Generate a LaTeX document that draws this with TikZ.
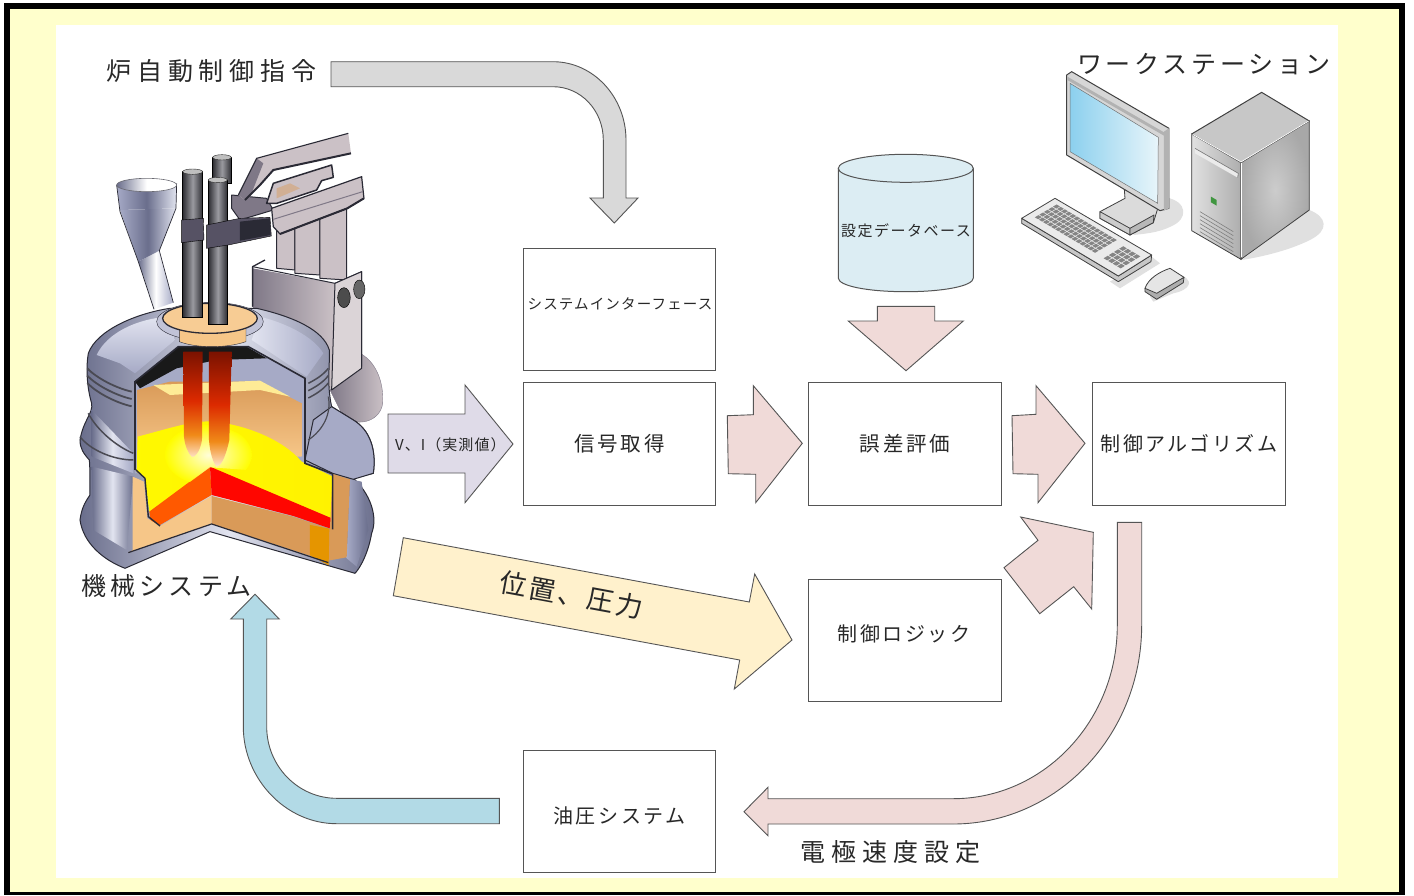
\documentclass[tikz,border=0pt]{standalone}
\usepackage{fontspec}
\setmainfont{Noto Sans CJK JP}
\newcommand\jptext[3]{{\fontsize{#1}{#1}\selectfont\addfontfeature{LetterSpace=#2}#3}}
\definecolor{pagey}{HTML}{FFFFCC}
\definecolor{edgeg}{HTML}{555555}
\definecolor{pinkf}{HTML}{F0DAD8}
\definecolor{grayf}{HTML}{D9D9D9}
\definecolor{lilacf}{HTML}{DFDBE8}
\definecolor{yellf}{HTML}{FFF1CC}
\definecolor{bluef}{HTML}{B2DAE6}
\definecolor{dbf}{HTML}{DCEDF3}
\definecolor{txt}{HTML}{282828}
\definecolor{frameS}{HTML}{2A2A35}
\definecolor{armf}{HTML}{CBC1C6}
\definecolor{armd}{HTML}{7F7887}
\definecolor{tanl}{HTML}{F6C688}
\definecolor{tand}{HTML}{D99A58}
\definecolor{steelD}{HTML}{6A6E8C}
\definecolor{steelM}{HTML}{A6AAC6}
\definecolor{steelL}{HTML}{E2E4F0}
\definecolor{elecD}{HTML}{2E2E33}
\definecolor{elecL}{HTML}{9A9AA0}
\definecolor{clampc}{HTML}{565264}
\definecolor{flameT}{HTML}{7A1200}
\definecolor{flameM}{HTML}{DC2A00}
\definecolor{flameO}{HTML}{F08A18}
\definecolor{flameB}{HTML}{FFE6D0}
\pgfdeclareverticalshading{flameshade}{100bp}{color(0bp)=(flameB); color(25bp)=(flameB); color(36bp)=(flameO); color(52bp)=(flameM); color(75bp)=(flameT); color(100bp)=(flameT)}
\tikzset{
  boxn/.style={draw=edgeg,line width=1.3pt,fill=white,minimum width=192.5pt,minimum height=122.5pt,inner sep=0pt,text=txt},
  blockarrow/.style={draw=edgeg,line width=0.9pt,line join=miter},
  lab/.style={inner sep=0pt,text=txt,anchor=west},
  ink/.style={draw=frameS,line width=1pt,line join=round},
  pcline/.style={draw=black!75,line width=0.8pt,line join=round}
}
\begin{document}
\begin{tikzpicture}[x=1pt,y=-1pt]
\useasboundingbox (0,0) rectangle (1414,895);
\fill[white] (0,0) rectangle (1414,895);
\fill[black] (4,3) rectangle (1405,895);
\fill[pagey] (10,9) rectangle (1399,892);
\fill[white] (56,25) rectangle (1338,878);

% ---------- furnace illustration
\begin{scope}[shift={(60,120)},x=.3333pt,y=-.3333pt]
% mast base
\shade[left color=armd,right color=armf,draw=armd] (890,695) .. controls (950,720) and (972,790) .. (968,850) .. controls (962,900) and (900,925) .. (850,890) -- (810,810) -- cycle;
% posts
\foreach \a/\b/\c/\d in {650/705/300/450,705/780/290/465,780/860/270/480}
  \filldraw[fill=armf,ink] (\a,\c) -- (\b,\c-15) -- (\b,\d) -- (\a,\d-5) -- cycle;
% mast block
\shade[left color=armd,right color=armf] (578,445) -- (825,490) -- (815,810) -- (590,590) -- (578,560) -- cycle;
\draw[ink,line width=1.3pt] (578,560) -- (578,440) -- (615,420);
\draw[ink] (578,440) -- (825,490) -- (905,455) -- (905,740);
\filldraw[fill=armf!70!white,ink] (825,490) -- (905,455) -- (905,745) -- (815,810) -- cycle;
\filldraw[fill=black!70,draw=black] (852,533) ellipse (19 and 30);
\filldraw[fill=black!60,draw=black] (898,508) ellipse (17 and 28);
% link piece behind the arms
\filldraw[fill=armd,ink] (515,225) -- (620,235) -- (640,270) -- (540,300) -- (515,265) -- cycle;
% second bar under upper arm
\filldraw[fill=armf,ink,line width=1.5pt] (640,190) -- (815,135) -- (820,172) -- (785,182) -- (770,210) -- (650,250) -- (620,250) -- cycle;
\fill[tand!45!armf] (650,205) -- (690,190) -- (720,205) -- (650,235) -- cycle;
% upper arm
\filldraw[fill=armf,draw=none] (535,225) -- (590,115) -- (865,40) -- (873,100) -- (640,150) -- (600,195) -- (555,240) -- cycle;
\fill[armd] (535,225) -- (590,115) -- (610,130) -- (570,232) -- (555,240) -- cycle;
\draw[frameS,line width=1.1pt] (535,225) -- (590,115) -- (865,40);
\draw[frameS,line width=2pt] (555,240) -- (600,195) -- (640,150) -- (873,100);
% lower arm
\filldraw[fill=armf,ink,line width=1.2pt] (635,265) -- (905,170) -- (912,235) -- (862,265) -- (660,342) -- (640,320) -- cycle;
\draw[frameS,line width=2pt] (660,342) -- (862,265) -- (912,235);
\draw[armd,line width=1pt] (640,298) -- (908,215);
% hopper
\shade[left color=steelD,right color=steelM,middle color=white] (235,425) -- (298,392) -- (340,548) -- (282,568) -- cycle;
\shade[left color=steelM,right color=steelL,middle color=steelD] (180,270) -- (348,265) -- (298,392) -- (235,425) -- cycle;
\shade[left color=steelM,right color=steelL,middle color=steelD] (170,195) -- (350,190) -- (348,265) -- (180,270) -- cycle;
\draw[ink,line width=.7pt] (170,195) -- (180,275) -- (235,425) -- (282,568);
\draw[ink,line width=.7pt] (350,190) -- (348,265) -- (298,392) -- (340,548);
\shade[left color=steelD,right color=white,middle color=white,draw=frameS!70,line width=.6pt] (260,195) ellipse (90 and 20);
% furnace body
\shade[left color=steelD,right color=steelD,middle color=steelL,draw=frameS,line width=1pt]
  (60,960) .. controls (70,900) and (100,880) .. (95,850) .. controls (80,800) and (78,740) .. (85,700)
  .. controls (110,630) and (230,580) .. (330,565) -- (590,565)
  .. controls (700,590) and (790,630) .. (808,690) .. controls (810,740) and (800,790) .. (815,860)
  -- (880,900) .. controls (930,930) and (950,990) .. (940,1060) -- (880,1075)
  .. controls (930,1120) and (955,1190) .. (935,1240) .. controls (925,1300) and (900,1345) .. (885,1360)
  -- (450,1235) -- (195,1345)
  .. controls (130,1320) and (70,1270) .. (60,1200) .. controls (65,1160) and (80,1140) .. (90,1125)
  .. controls (90,1080) and (90,1040) .. (88,1020) .. controls (70,1000) and (60,985) .. (60,960) -- cycle;
% highlights on the lower shell
\shade[left color=steelD,right color=steelM,middle color=steelL] (95,870) -- (220,1000) -- (220,1060) -- (95,1010) -- cycle;
\shade[left color=steelD,right color=steelD,middle color=steelL] (95,1040) -- (220,1070) -- (200,1290) -- (100,1230) -- cycle;
% skirt right
\filldraw[fill=steelM,ink] (735,1020) -- (760,900) -- (815,860) -- (880,900) .. controls (930,930) and (950,990) .. (940,1060) -- (880,1078) -- (818,1060) -- cycle;
\shade[left color=steelM,right color=steelD] (870,1078) -- (905,1085) -- (925,1230) -- (890,1340) -- (860,1315) -- cycle;
% roof plates
\shade[top color=steelL,bottom color=steelM] (110,705) .. controls (140,640) and (230,595) .. (330,590) -- (345,660) -- (225,760) -- (180,730) -- cycle;
\shade[left color=steelL,right color=steelM] (575,660) -- (600,590) .. controls (680,610) and (760,650) .. (790,700) -- (740,770) -- cycle;
% ridges
\foreach \d in {0,22,44}{
  \draw[frameS!85,line width=1.8pt] (82,{745+\d}) .. controls (110,{775+\d}) and (170,{805+\d}) .. (215,{815+\d});
  \draw[frameS!85,line width=1.5pt] (745,{790+\d}) .. controls (765,{780+\d}) and (790,{765+\d}) .. (805,{745+\d});
}
\draw[frameS!85,line width=1.5pt] (85,880) .. controls (110,930) and (170,980) .. (220,1000);
\draw[frameS!85,line width=1.5pt] (60,950) .. controls (90,990) and (160,1020) .. (220,1020);
\draw[frameS!85,line width=1.2pt] (745,960) .. controls (790,930) and (815,880) .. (805,830);
% cut-away
\fill[steelM] (225,785) -- (355,680) -- (565,680) -- (735,775) -- (735,1040) -- (225,1060) -- cycle;
\fill[black!90] (225,785) -- (355,680) -- (560,680) -- (620,715) -- (470,720) -- (350,745) -- (240,805) -- cycle;
\shade[top color=tand,bottom color=tanl] (232,810) -- (330,785) -- (600,785) -- (725,850) -- (725,1010) -- (232,1010) -- cycle;
\fill[yellow!70!orange!40] (280,795) -- (600,782) -- (690,830) -- (600,810) -- (330,825) -- cycle;
\shade[left color=yellow!95!orange,right color=yellow!90!orange] (233,950) .. controls (330,925) and (400,900) .. (460,905) .. controls (560,915) and (670,960) .. (725,1025) -- (815,1068) -- (815,1195) -- (450,1045) -- (268,1175) -- (255,1075) -- (230,1055) -- cycle;
\fill[orange!70!red] (268,1175) -- (450,1040) -- (455,1125) -- (300,1215) -- (272,1205) -- cycle;
\fill[red!95!orange] (450,1040) -- (815,1195) -- (818,1228) -- (700,1188) -- (455,1125) -- cycle;
\fill[tanl] (218,1070) -- (252,1085) -- (262,1195) -- (300,1218) -- (455,1128) -- (455,1212) -- (205,1298) -- (218,1290) -- cycle;
\fill[tand] (455,1128) -- (700,1190) -- (818,1230) -- (805,1325) -- (455,1212) -- cycle;
\fill[tand] (818,1062) -- (870,1078) -- (860,1312) -- (805,1322) -- cycle;
\fill[orange!70!yellow!90!black] (750,1215) -- (808,1226) -- (806,1336) -- (750,1306) -- cycle;
\draw[frameS,line width=1.6pt] (225,1050) -- (225,785) -- (355,680) -- (565,680) -- (735,775) -- (735,1030) -- (818,1062) -- (818,1228);
\draw[frameS,line width=1.4pt] (228,1050) -- (255,1075) -- (265,1190) -- (300,1218);
\draw[frameS,line width=1.2pt] (205,1298) -- (455,1212) -- (805,1328);
% glow
\begin{scope}
\clip (233,950) -- (455,905) -- (725,1025) -- (815,1068) -- (450,1042) -- (268,1175) -- cycle;
\shade[inner color=white,outer color=yellow,opacity=.85] (445,1005) ellipse (130 and 90);
\end{scope}
% flames
\shade[shading=flameshade] (370,695) -- (428,695) -- (426,960) .. controls (420,1000) and (400,1015) .. (395,1010) .. controls (385,1000) and (375,980) .. (372,950) -- cycle;
\shade[shading=flameshade] (447,695) -- (515,695) -- (508,960) .. controls (495,1020) and (480,1040) .. (470,1040) .. controls (460,1030) and (450,1000) .. (447,960) -- cycle;
% flange
\filldraw[fill=steelM!70!white,draw=frameS] (450,605) ellipse (160 and 58);
\filldraw[fill=tanl,draw=frameS] (358,620) -- (558,620) -- (558,665) .. controls (500,685) and (410,685) .. (358,665) -- cycle;
\filldraw[fill=tanl!90!white,draw=frameS,line width=1.3pt] (450,595) ellipse (142 and 45);
% electrodes
\foreach \a/\b/\t/\e in {458/514/112/190,368/428/155/592,445/502/180/612}{
  \shade[left color=elecD,right color=elecD,middle color=elecL,draw=black,line width=.8pt] (\a,\t) -- (\b,\t) -- (\b,\e) -- (\a,\e) -- cycle;
  \filldraw[fill=black!25,draw=black!85] ({(\a+\b)/2},\t) ellipse ({(\b-\a)/2} and 8);
}
% clamps
\filldraw[fill=clampc,draw=black] (365,300) -- (430,295) -- (432,360) -- (365,368) -- cycle;
\filldraw[fill=clampc,draw=black] (440,315) -- (540,295) -- (630,292) -- (634,348) -- (505,375) -- (440,385) -- cycle;
\fill[frameS] (540,305) -- (630,295) -- (632,345) -- (540,362) -- cycle;
\end{scope}

% ---------- workstation illustration
\begin{scope}[shift={(1010,40)},x=.3333pt,y=-.3333pt]
% shadows
\fill[black!12] (440,470) .. controls (520,470) and (540,520) .. (500,550) .. controls (460,575) and (420,580) .. (370,585) -- cycle;
\fill[black!12] (898,510) .. controls (950,530) and (960,570) .. (900,600) .. controls (840,630) and (760,650) .. (695,660) -- cycle;
\fill[black!12] (425,650) -- (450,670) -- (330,745) -- (300,725) -- cycle;
\fill[black!12] (500,700) .. controls (560,720) and (540,750) .. (490,760) -- (430,785) -- (420,770) -- cycle;
% monitor stand
\filldraw[fill=black!14,pcline] (342,435) -- (345,475) -- (270,515) -- (270,535) -- (360,585) -- (430,548) -- (445,500) -- cycle;
\filldraw[fill=black!20,pcline] (270,515) -- (360,565) -- (360,585) -- (270,535) -- cycle;
\filldraw[fill=black!28,pcline] (360,565) -- (432,525) -- (430,548) -- (360,585) -- cycle;
% monitor
\filldraw[fill=black!16,pcline,line width=1pt] (170,105) -- (185,95) -- (477,265) -- (477,505) -- (450,512) -- (170,345) -- cycle;
\filldraw[fill=black!30,draw=none] (462,275) -- (477,265) -- (477,505) -- (462,512) -- cycle;
\fill[white!70!black] (172,110) -- (462,277) -- (462,287) -- (172,120) -- cycle;
\definecolor{scrL}{HTML}{8CD0EE}\definecolor{scrR}{HTML}{E8F5FA}
\shade[left color=scrL,right color=scrR] (180,130) -- (445,292) -- (443,490) -- (180,335) -- cycle;
\draw[black!55,line width=.5pt] (180,130) -- (445,292) -- (443,490) -- (180,335) -- cycle;
% keyboard
\filldraw[fill=black!22,pcline] (35,535) -- (35,550) -- (325,725) -- (423,665) -- (425,645) -- (325,708) -- cycle;
\filldraw[fill=black!8,pcline] (35,535) -- (135,475) -- (425,645) -- (325,708) -- cycle;
\foreach \i in {0,...,14}\foreach \j in {0,...,4}
  \fill[black!48] ({72+183*(\i+.1)/15+68*(\j+.1)/5},{532+108*(\i+.1)/15-40*(\j+.1)/5}) -- ++(9.8,5.8) -- ++(10.9,-6.4) -- ++(-9.8,-5.8) -- cycle;
\foreach \i in {0,...,3}\foreach \j in {0,...,3}
  \fill[black!48] ({278+54*(\i+.1)/4+62*(\j+.1)/4},{655+32*(\i+.1)/4-38*(\j+.1)/4}) -- ++(10.8,6.4) -- ++(12.4,-7.6) -- ++(-10.8,-6.4) -- cycle;
% mouse
\filldraw[fill=black!32,pcline] (405,745) -- (405,755) -- (440,778) -- (520,728) -- (522,712) -- (440,750) -- cycle;
\filldraw[fill=black!10,pcline] (405,745) .. controls (415,715) and (450,695) .. (480,685) -- (522,712) -- (440,760) -- cycle;
% tower
\filldraw[fill=black!22,pcline,line width=1pt] (545,282) -- (755,157) -- (898,243) -- (693,368) -- cycle;
\shade[left color=black!12,right color=black!32,draw=black!75,line width=.8pt] (545,282) -- (693,368) -- (693,658) -- (545,572) -- cycle;
\shade[inner color=black!20,outer color=black!34,draw=black!75,line width=.8pt] (693,368) -- (898,243) -- (898,510) -- (693,658) -- cycle;
\draw[white,line width=.8pt] (548,283) -- (693,366) -- (896,243);
\draw[white,line width=.8pt] (693,368) -- (693,650);
\filldraw[fill=black!8,draw=none] (555,325) -- (685,400) -- (683,413) -- (555,340) -- cycle;
\draw[black!55,line width=.6pt] (683,413) -- (685,400) -- (555,325);
\fill[green!45!black!75] (603,470) -- (620,480) -- (620,497) -- (603,487) -- cycle;
\foreach \d in {0,12,...,60}
  \draw[black!50,line width=.6pt] (570,{515+\d}) -- (670,{575+\d});
\end{scope}

% ---------- block arrows
\filldraw[blockarrow,fill=grayf] (331,61.7) -- (553,61.7) .. controls (593.3,61.7) and (626,97) .. (626,140) -- (626,198) -- (638,198) -- (614.3,223) -- (590,198) -- (603.3,198) -- (603.3,140) .. controls (603.3,110.6) and (581,86.7) .. (553,86.7) -- (331,86.7) -- cycle;
\filldraw[blockarrow,fill=lilacf] (388,414) -- (465,414) -- (465,385) -- (513,444) -- (465,502.7) -- (465,473) -- (388,473) -- cycle;
\filldraw[blockarrow,fill=pinkf] (727.3,415.7) -- (753.3,414.7) -- (753.3,385.7) -- (802.3,443.3) -- (755.7,502.7) -- (755.7,474.3) -- (728.3,473.7) -- cycle;
\filldraw[blockarrow,fill=pinkf] (1012,415.7) -- (1036,414.3) -- (1036,385.7) -- (1085,443.3) -- (1038,502.7) -- (1038,474.3) -- (1013,473.7) -- cycle;
\filldraw[blockarrow,fill=pinkf] (1020.7,517) -- (1093.3,532.3) -- (1091.7,609) -- (1073.7,586.7) -- (1039.7,613.7) -- (1004,567.7) -- (1038,540.3) -- cycle;
\filldraw[blockarrow,fill=pinkf] (877.3,306.3) -- (934.7,306.3) -- (934.7,321) -- (963.3,321) -- (906,370.7) -- (848.3,321) -- (877.3,321) -- cycle;
\filldraw[blockarrow,fill=yellf] (403.3,537.7) -- (749.3,602) -- (754.7,574) -- (792,640) -- (734.3,689) -- (739.7,660) -- (393.3,595.7) -- cycle;
\filldraw[blockarrow,fill=pinkf] (1117.3,522.3) -- (1141.7,522.3) -- (1141.7,625) .. controls (1141.7,735) and (1057.4,824) .. (953,824) -- (768,824) -- (768,835.7) -- (744,811.7) -- (768,787.3) -- (768,798.7) -- (953,798.7) .. controls (1043.6,798.7) and (1117.3,721) .. (1117.3,625) -- cycle;
\filldraw[blockarrow,fill=bluef] (499.3,798.3) -- (336.7,798.3) .. controls (298,798.3) and (266.7,766) .. (266.7,726.7) -- (266.7,619) -- (279.3,619) -- (255,594.3) -- (230.7,619) -- (243.3,619) -- (243.3,726.7) .. controls (243.3,778) and (285,823.7) .. (336.7,823.7) -- (499.3,823.7) -- cycle;

% ---------- database
\filldraw[draw=edgeg,line width=1pt,fill=dbf] (838.3,168.3) -- (838.3,278) .. controls (838.3,286) and (868,291.7) .. (905.8,291.7) .. controls (943.6,291.7) and (973.3,286) .. (973.3,278) -- (973.3,168.3) -- cycle;
\filldraw[draw=edgeg,line width=1pt,fill=dbf] (905.8,168.3) ellipse (67.5 and 14);
\node[inner sep=0pt,text=txt] (dbtext) at (906,230.5) {\jptext{15}{10}{設定データベース}};

% ---------- boxes
\node[boxn] (sif) at (619.5,309.5) {};
\node[inner sep=0pt,text=txt] (siftext) at (620,304) {\jptext{14.5}{8}{システムインターフェース}};
\node[boxn] (sig) at (619.5,444) {\jptext{20.5}{14}{信号取得}};
\node[boxn] (err) at (905,444) {\jptext{20.5}{14}{誤差評価}};
\node[boxn] (alg) at (1189,444) {\jptext{20}{12}{制御アルゴリズム}};
\node[boxn] (log) at (905,640.5) {};
\node[inner sep=0pt,text=txt] (logtext) at (904,634) {\jptext{20}{13}{制御ロジック}};
\node[boxn] (hyd) at (619.5,811.5) {};
\node[inner sep=0pt,text=txt] (hydtext) at (619.5,815.5) {\jptext{20}{13}{油圧システム}};

% ---------- labels
\node[lab] (cmd) at (106.5,71) {\jptext{25}{23}{炉自動制御指令}};
\node[lab] (wks) at (1077,64) {\jptext{25}{15}{ワークステーション}};
\node[lab] (mch) at (81,586.5) {\jptext{25}{17}{機械システム}};
\node[lab] (spd) at (800.5,852) {\jptext{25}{24}{電極速度設定}};
\node[lab] (vi) at (395,445) {\jptext{15}{7}{V、I（実測値）}};
\node[inner sep=0pt,text=txt,rotate=-10.5] (pos) at (571.7,595) {\jptext{27}{10}{位置、圧力}};
\end{tikzpicture}
\end{document}
